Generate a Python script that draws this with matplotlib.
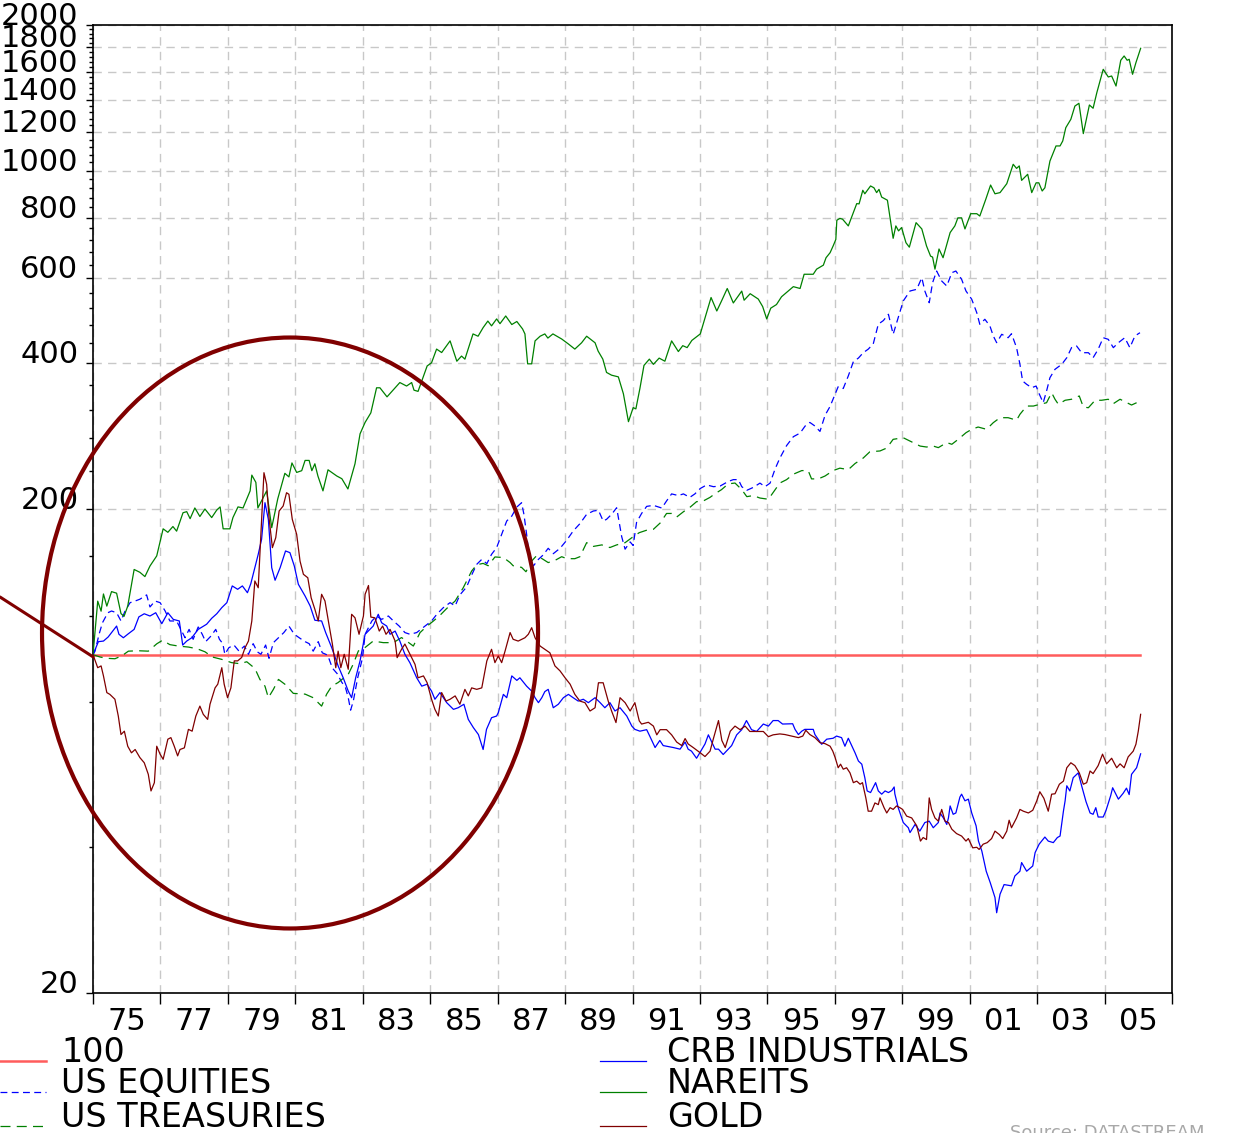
import matplotlib
matplotlib.use("Agg")
import matplotlib.pyplot as plt
from matplotlib.patches import Ellipse
from matplotlib.lines import Line2D
from matplotlib.ticker import FixedLocator, NullFormatter

# ---- data (1975 = 100) ----
base_years = [1975.0, 2006.05]
base_vals = [100, 100]

equity_years = [1975.0, 1975.06, 1975.18, 1975.28, 1975.44, 1975.55, 1975.70, 1975.83, 1975.95, 1976.10,
                1976.25, 1976.39, 1976.59, 1976.69, 1976.84, 1976.99, 1977.14, 1977.28, 1977.48, 1977.63,
                1977.73, 1977.85, 1977.97, 1978.12, 1978.24, 1978.34, 1978.50, 1978.64, 1978.75, 1978.85,
                1978.91, 1979.03, 1979.18, 1979.33, 1979.49, 1979.61, 1979.75, 1979.87, 1979.98, 1980.12,
                1980.22, 1980.35, 1980.50, 1980.66, 1980.81, 1980.97, 1981.14, 1981.29, 1981.41, 1981.53,
                1981.68, 1981.80, 1981.96, 1982.10, 1982.24, 1982.37, 1982.49, 1982.57, 1982.64, 1982.72,
                1982.85, 1982.99, 1983.07, 1983.27, 1983.41, 1983.56, 1983.76, 1983.91, 1984.08, 1984.25,
                1984.40, 1984.60, 1984.85, 1985.04, 1985.21, 1985.39, 1985.59, 1985.74, 1985.88, 1986.08,
                1986.23, 1986.38, 1986.53, 1986.68, 1986.82, 1986.97, 1987.12, 1987.27, 1987.42, 1987.57,
                1987.71, 1987.78, 1987.86, 1987.94, 1988.06, 1988.21, 1988.35, 1988.50, 1988.65, 1988.85,
                1989.05, 1989.24, 1989.44, 1989.64, 1989.84, 1989.99, 1990.13, 1990.23, 1990.38, 1990.53,
                1990.68, 1990.78, 1990.93, 1991.02, 1991.12, 1991.27, 1991.42, 1991.62, 1991.87, 1992.01,
                1992.16, 1992.36, 1992.51, 1992.70, 1992.85, 1993.01, 1993.20, 1993.40, 1993.60, 1993.84,
                1993.99, 1994.14, 1994.24, 1994.39, 1994.58, 1994.78, 1994.93, 1995.08, 1995.23, 1995.37,
                1995.57, 1995.77, 1995.97, 1996.12, 1996.26, 1996.41, 1996.56, 1996.71, 1996.86, 1997.01,
                1997.10, 1997.25, 1997.40, 1997.55, 1997.70, 1997.84, 1997.99, 1998.14, 1998.29, 1998.44,
                1998.59, 1998.73, 1998.88, 1999.03, 1999.23, 1999.43, 1999.58, 1999.67, 1999.80, 1999.90,
                2000.02, 2000.17, 2000.32, 2000.47, 2000.59, 2000.76, 2000.89, 2001.06, 2001.21, 2001.30,
                2001.45, 2001.60, 2001.70, 2001.80, 2001.95, 2002.14, 2002.24, 2002.39, 2002.49, 2002.57,
                2002.69, 2002.84, 2002.97, 2003.06, 2003.18, 2003.28, 2003.38, 2003.53, 2003.73, 2003.88,
                2004.02, 2004.17, 2004.32, 2004.52, 2004.66, 2004.81, 2004.96, 2005.11, 2005.26, 2005.41,
                2005.60, 2005.75, 2005.90, 2006.05]
equity_vals = [100, 101.7, 110.2, 116.4, 122.1, 123.1, 122.1, 117.4, 123.1, 128.1,
               129.1, 130.2, 132.9, 125.5, 129.1, 128.1, 123.1, 117.4, 117.4, 111.9,
               108.4, 112.8, 107.6, 114.1, 110.2, 106.4, 109.3, 112.8, 107.6, 105.4,
               100.2, 103.4, 104.7, 101.7, 104.2, 100.2, 105.4, 101.4, 100.2, 104.7,
               98.3, 105.9, 108.4, 111.1, 114.6, 110.2, 108.1, 106.4, 105.4, 101.7,
               106.4, 100.9, 99.8, 93.8, 91.4, 87.9, 85.4, 81.5, 76.8, 80.2,
               89.6, 98.3, 110.2, 117.4, 120.2, 118.3, 120.2, 117.4, 114.6, 111.1,
               110.2, 111.1, 114.6, 117.4, 121.5, 125.1, 128.1, 126.1, 132.9, 138.0,
               146.1, 153.7, 157.4, 154.2, 161.2, 166.4, 177.3, 188.9, 193.4, 201.9,
               206.1, 195.0, 177.3, 158.6, 152.5, 157.4, 160.7, 165.9, 161.7, 165.9,
               172.4, 180.1, 186.5, 195.0, 198.1, 198.8, 188.9, 190.4, 195.0, 201.2,
               175.3, 165.2, 171.0, 168.1, 187.6, 195.8, 202.5, 203.5, 200.9, 207.8,
               214.9, 213.2, 214.9, 211.4, 214.9, 220.5, 224.3, 222.4, 223.1, 228.0,
               230.0, 230.0, 222.4, 218.6, 221.6, 226.2, 222.4, 226.2, 242.1, 254.8,
               270.4, 282.1, 287.0, 296.8, 301.9, 296.8, 289.3, 312.3, 325.9, 345.8,
               357.9, 354.8, 376.7, 403.1, 410.1, 420.5, 427.8, 438.7, 481.8, 490.2,
               505.1, 459.2, 496.9, 538.1, 564.2, 568.8, 601.1, 564.2, 533.6, 587.0,
               620.5, 591.7, 577.7, 615.5, 620.5, 596.6, 564.2, 542.5, 508.8, 481.5,
               493.2, 477.7, 455.5, 441.2, 459.2, 451.8, 460.5, 430.9, 398.1, 367.7,
               361.9, 356.2, 359.0, 346.1, 331.6, 350.6, 373.5, 388.7, 398.1, 410.8,
               430.9, 434.3, 420.7, 420.7, 410.8, 427.6, 451.8, 448.3, 430.9, 441.2,
               451.8, 430.9, 455.5, 462.7]

treas_years = [1975.0, 1975.21, 1975.41, 1975.65, 1975.85, 1976.05, 1976.34, 1976.64, 1976.89, 1977.06,
               1977.28, 1977.53, 1977.83, 1978.08, 1978.32, 1978.54, 1978.82, 1979.11, 1979.36, 1979.56,
               1979.80, 1979.95, 1980.10, 1980.20, 1980.35, 1980.50, 1980.69, 1980.94, 1981.29, 1981.53,
               1981.78, 1981.93, 1982.08, 1982.27, 1982.57, 1982.72, 1982.87, 1983.07, 1983.31, 1983.61,
               1983.91, 1984.15, 1984.30, 1984.50, 1984.70, 1984.90, 1985.09, 1985.29, 1985.49, 1985.74,
               1985.98, 1986.23, 1986.38, 1986.57, 1986.72, 1986.92, 1987.17, 1987.37, 1987.46, 1987.71,
               1987.84, 1988.01, 1988.16, 1988.35, 1988.50, 1988.70, 1988.90, 1989.05, 1989.29, 1989.44,
               1989.64, 1989.84, 1990.09, 1990.33, 1990.53, 1990.78, 1991.02, 1991.20, 1991.47, 1991.62,
               1991.82, 1992.01, 1992.16, 1992.31, 1992.51, 1992.70, 1992.90, 1993.10, 1993.30, 1993.44,
               1993.64, 1993.84, 1994.04, 1994.24, 1994.39, 1994.58, 1994.78, 1995.03, 1995.18, 1995.37,
               1995.57, 1995.77, 1996.02, 1996.21, 1996.31, 1996.51, 1996.71, 1996.95, 1997.15, 1997.40,
               1997.60, 1997.84, 1998.04, 1998.34, 1998.54, 1998.73, 1999.03, 1999.33, 1999.53, 1999.72,
               1999.92, 2000.07, 2000.32, 2000.47, 2000.66, 2000.89, 2001.06, 2001.25, 2001.50, 2001.70,
               2001.90, 2002.14, 2002.39, 2002.49, 2002.69, 2002.89, 2003.08, 2003.28, 2003.43, 2003.53,
               2003.63, 2003.83, 2004.02, 2004.25, 2004.37, 2004.52, 2004.72, 2004.91, 2005.11, 2005.26,
               2005.46, 2005.60, 2005.80, 2005.95]
treas_vals = [100, 98.9, 98.3, 98.1, 99.4, 101.7, 101.9, 101.7, 105.3, 107.1,
              104.9, 104.2, 103.7, 102.9, 101.4, 98.9, 97.8, 96.3, 95.8, 96.7,
              93.7, 88.9, 86.1, 81.5, 84.8, 88.9, 86.9, 83.2, 82.9, 81.5,
              78.3, 82.9, 86.1, 87.6, 91.1, 95.7, 101.8, 103.5, 106.7, 105.9,
              105.9, 108.5, 106.7, 104.2, 111.1, 114.5, 117.3, 120.6, 124.6, 129.1,
              137.5, 148.9, 153.4, 154.4, 152.7, 159.2, 158.8, 155.0, 152.7, 151.5,
              148.4, 156.1, 160.3, 157.4, 155.0, 156.6, 159.4, 157.9, 157.9, 159.4,
              170.4, 167.4, 168.6, 166.5, 168.6, 170.4, 175.3, 178.7, 181.3, 181.6,
              187.1, 195.8, 195.8, 192.5, 197.4, 201.5, 207.1, 207.8, 211.4, 214.9,
              219.3, 225.4, 226.3, 219.3, 212.1, 213.2, 210.7, 209.5, 216.8, 226.3,
              230.0, 236.0, 240.1, 240.1, 230.8, 230.8, 234.0, 240.1, 242.9, 241.2,
              248.3, 254.8, 262.6, 263.6, 267.3, 278.6, 280.7, 274.2, 269.8, 268.6,
              269.8, 267.8, 274.3, 272.1, 278.6, 287.5, 292.2, 295.4, 292.2, 301.6,
              308.8, 308.8, 305.1, 313.8, 326.4, 326.4, 329.1, 331.6, 347.8, 337.1,
              329.1, 335.5, 337.1, 342.4, 324.9, 323.8, 335.5, 335.5, 337.1, 330.1,
              337.1, 333.3, 328.0, 331.6]

crb_years = [1975.0, 1975.16, 1975.31, 1975.45, 1975.60, 1975.70, 1975.77, 1975.90, 1976.05, 1976.22,
             1976.36, 1976.52, 1976.69, 1976.86, 1977.04, 1977.22, 1977.38, 1977.56, 1977.66, 1977.78,
             1977.93, 1978.12, 1978.37, 1978.52, 1978.67, 1978.82, 1978.97, 1979.13, 1979.29, 1979.43,
             1979.58, 1979.68, 1979.80, 1979.90, 1980.00, 1980.10, 1980.20, 1980.30, 1980.40, 1980.55,
             1980.71, 1980.84, 1980.97, 1981.09, 1981.29, 1981.44, 1981.58, 1981.78, 1981.90, 1982.08,
             1982.27, 1982.42, 1982.57, 1982.67, 1982.79, 1982.92, 1983.07, 1983.31, 1983.46, 1983.56,
             1983.71, 1983.81, 1983.96, 1984.10, 1984.25, 1984.40, 1984.60, 1984.75, 1984.91, 1985.04,
             1985.14, 1985.29, 1985.49, 1985.69, 1985.83, 1986.00, 1986.13, 1986.28, 1986.43, 1986.57,
             1986.67, 1986.82, 1986.97, 1987.02, 1987.17, 1987.27, 1987.42, 1987.57, 1987.66, 1987.86,
             1988.01, 1988.11, 1988.21, 1988.31, 1988.40, 1988.50, 1988.65, 1988.80, 1988.95, 1989.10,
             1989.24, 1989.39, 1989.54, 1989.69, 1989.89, 1990.04, 1990.18, 1990.33, 1990.48, 1990.63,
             1990.83, 1990.98, 1991.07, 1991.22, 1991.42, 1991.52, 1991.67, 1991.81, 1991.91, 1992.21,
             1992.41, 1992.56, 1992.65, 1992.75, 1992.90, 1993.15, 1993.25, 1993.35, 1993.45, 1993.55,
             1993.69, 1993.94, 1994.09, 1994.24, 1994.38, 1994.53, 1994.68, 1994.88, 1995.03, 1995.17,
             1995.32, 1995.45, 1995.75, 1995.82, 1995.92, 1996.02, 1996.11, 1996.36, 1996.41, 1996.61,
             1996.76, 1996.95, 1997.05, 1997.20, 1997.30, 1997.40, 1997.60, 1997.70, 1997.80, 1997.89,
             1997.96, 1998.06, 1998.21, 1998.29, 1998.39, 1998.49, 1998.59, 1998.69, 1998.76, 1998.78,
             1998.88, 1999.03, 1999.18, 1999.23, 1999.38, 1999.52, 1999.67, 1999.80, 1999.92, 2000.07,
             2000.12, 2000.22, 2000.32, 2000.37, 2000.42, 2000.51, 2000.59, 2000.71, 2000.76, 2000.86,
             2000.96, 2001.06, 2001.19, 2001.26, 2001.36, 2001.49, 2001.61, 2001.75, 2001.80, 2001.90,
             2002.02, 2002.24, 2002.34, 2002.49, 2002.54, 2002.69, 2002.87, 2002.94, 2003.06, 2003.23,
             2003.33, 2003.48, 2003.60, 2003.68, 2003.78, 2003.83, 2003.88, 2003.97, 2004.07, 2004.22,
             2004.32, 2004.45, 2004.57, 2004.66, 2004.74, 2004.81, 2004.96, 2005.04, 2005.18, 2005.24,
             2005.41, 2005.55, 2005.65, 2005.73, 2005.80, 2005.95, 2006.07]
crb_vals = [100, 106.4, 106.7, 108.8, 112.3, 114.6, 110.2, 108.4, 110.5, 112.8,
            119.7, 121.5, 120.2, 122.1, 115.9, 122.1, 118.3, 117.4, 104.7, 106.7,
            108.4, 112.8, 115.6, 118.9, 121.5, 125.1, 128.1, 138.7, 136.5, 138.7,
            134.3, 140.2, 151.3, 161.2, 173.2, 206.1, 190.4, 151.3, 142.5, 151.3,
            163.8, 162.5, 152.5, 139.8, 132.2, 126.1, 117.8, 117.4, 111.1, 103.4,
            94.8, 89.6, 84.1, 81.5, 89.6, 97.1, 110.2, 114.6, 121.2, 116.4,
            114.6, 110.2, 111.9, 106.7, 100.2, 96.2, 89.6, 86.1, 86.9, 84.1,
            80.9, 83.5, 79.6, 77.1, 77.7, 79.0, 73.5, 70.7, 68.4, 63.7,
            70.1, 74.1, 74.7, 75.9, 82.8, 81.5, 90.4, 88.5, 89.6, 86.1,
            84.1, 81.5, 79.6, 81.5, 83.9, 84.8, 77.7, 79.0, 81.5, 82.8,
            81.5, 80.2, 80.9, 79.6, 81.5, 79.6, 77.7, 79.6, 76.5, 77.7,
            74.7, 71.2, 70.1, 69.5, 70.0, 67.7, 64.3, 66.5, 64.9, 64.3,
            63.8, 66.0, 63.8, 63.2, 61.1, 65.4, 68.3, 66.0, 63.8, 63.8,
            62.2, 64.9, 68.3, 70.0, 73.1, 70.0, 69.4, 71.9, 71.2, 73.1,
            73.1, 71.9, 72.0, 70.1, 68.4, 69.5, 70.1, 70.1, 68.4, 65.3,
            66.9, 67.2, 67.9, 67.4, 64.7, 67.2, 62.7, 60.3, 59.4, 55.7,
            52.3, 51.9, 54.4, 52.3, 51.5, 52.3, 51.9, 52.4, 53.3, 51.6,
            48.3, 45.0, 43.9, 42.9, 44.6, 43.2, 45.0, 45.3, 43.9, 45.0,
            47.1, 46.0, 44.6, 46.0, 48.7, 46.8, 47.1, 50.8, 51.5, 49.9,
            50.3, 47.1, 44.3, 41.2, 39.3, 35.7, 33.8, 31.5, 29.3, 32.0,
            33.5, 33.3, 34.9, 35.7, 37.2, 35.7, 36.6, 39.0, 40.6, 42.0,
            41.2, 40.9, 41.9, 42.2, 47.5, 49.9, 53.6, 52.3, 55.7, 57.0,
            53.6, 49.7, 47.1, 46.8, 48.3, 46.2, 46.2, 47.6, 51.1, 53.1,
            50.3, 51.7, 53.0, 51.4, 56.6, 58.4, 62.4]

nareit_years = [1975.00, 1975.14, 1975.24, 1975.31, 1975.41, 1975.55, 1975.70, 1975.83, 1975.92, 1976.03,
                1976.22, 1976.39, 1976.54, 1976.69, 1976.89, 1977.08, 1977.22, 1977.37, 1977.48, 1977.67,
                1977.78, 1977.88, 1978.02, 1978.17, 1978.32, 1978.52, 1978.67, 1978.77, 1978.86, 1979.06,
                1979.15, 1979.30, 1979.45, 1979.66, 1979.71, 1979.83, 1979.89, 1980.00, 1980.15, 1980.30,
                1980.48, 1980.69, 1980.81, 1980.90, 1981.04, 1981.19, 1981.29, 1981.41, 1981.49, 1981.58,
                1981.67, 1981.82, 1981.97, 1982.23, 1982.38, 1982.56, 1982.77, 1982.92, 1983.07, 1983.24,
                1983.41, 1983.51, 1983.72, 1984.10, 1984.30, 1984.45, 1984.52, 1984.64, 1984.91, 1985.04,
                1985.19, 1985.34, 1985.59, 1985.79, 1985.93, 1986.03, 1986.27, 1986.42, 1986.57, 1986.71,
                1986.82, 1986.97, 1987.07, 1987.24, 1987.42, 1987.57, 1987.74, 1987.81, 1987.89, 1988.01,
                1988.11, 1988.26, 1988.40, 1988.49, 1988.64, 1988.90, 1989.09, 1989.29, 1989.49, 1989.64,
                1989.89, 1989.98, 1990.12, 1990.23, 1990.38, 1990.58, 1990.73, 1990.88, 1991.02, 1991.10,
                1991.22, 1991.34, 1991.50, 1991.62, 1991.79, 1991.96, 1992.16, 1992.36, 1992.49, 1992.62,
                1992.76, 1993.01, 1993.33, 1993.50, 1993.64, 1993.81, 1993.99, 1994.24, 1994.31, 1994.49,
                1994.73, 1994.86, 1994.98, 1995.10, 1995.27, 1995.42, 1995.77, 1995.97, 1996.09, 1996.36,
                1996.46, 1996.66, 1996.74, 1996.86, 1996.95, 1997.03, 1997.06, 1997.15, 1997.23, 1997.40,
                1997.53, 1997.65, 1997.72, 1997.83, 1997.89, 1998.06, 1998.16, 1998.24, 1998.31, 1998.39,
                1998.56, 1998.73, 1998.81, 1998.89, 1998.98, 1999.11, 1999.21, 1999.41, 1999.58, 1999.72,
                1999.84, 1999.90, 1999.97, 2000.09, 2000.21, 2000.42, 2000.56, 2000.65, 2000.76, 2000.86,
                2001.03, 2001.21, 2001.30, 2001.48, 2001.62, 2001.75, 2001.90, 2002.10, 2002.29, 2002.39,
                2002.47, 2002.54, 2002.72, 2002.84, 2002.97, 2003.05, 2003.15, 2003.23, 2003.38, 2003.56,
                2003.68, 2003.76, 2003.85, 2004.00, 2004.12, 2004.24, 2004.37, 2004.55, 2004.66, 2004.77,
                2004.96, 2005.11, 2005.21, 2005.34, 2005.48, 2005.58, 2005.67, 2005.73, 2005.83, 2005.93,
                2006.07]
nareit_vals = [100, 129, 123, 133.5, 126, 135, 134, 121.6, 120, 126,
               150, 148, 145, 152.5, 160, 182, 179, 184, 180, 196.5,
               197.5, 191, 201, 193, 200, 192, 199, 202, 182, 182,
               192, 202, 201, 218, 235, 227, 201, 208, 218, 183,
               210, 237, 233, 249, 238, 240, 252, 252, 240, 248,
               234, 218, 241, 234, 231, 220, 248, 286, 302, 316,
               356, 356, 341, 365, 359, 365, 352, 350, 395, 401,
               428, 421, 445, 404, 414, 408, 460, 455, 474, 489,
               478, 494, 483, 501, 481, 488, 471, 460, 399, 399,
               445, 455, 460, 451, 460, 449, 439, 428, 441, 455,
               441, 424, 408, 383, 378, 375, 346, 303, 324, 322,
               355, 396, 408, 398, 410, 404, 445, 423, 435, 431,
               446, 460, 547, 513, 538, 571, 533, 564, 540, 557,
               543, 524, 494, 520, 529, 549, 576, 571, 611, 611,
               626, 638, 661, 677, 699, 721, 790, 797, 794, 769,
               813, 855, 854, 911, 896, 930, 922, 901, 915, 882,
               869, 725, 769, 751, 763, 710, 695, 781, 758, 699,
               666, 663, 626, 689, 661, 745, 769, 799, 799, 758,
               815, 815, 806, 874, 934, 896, 901, 940, 1031, 1011,
               1023, 955, 983, 901, 944, 944, 908, 922, 1047, 1125,
               1125, 1152, 1227, 1277, 1360, 1378, 1193, 1367, 1346, 1449,
               1620, 1562, 1569, 1496, 1691, 1726, 1691, 1699, 1582, 1672,
               1790]

gold_years = [1975.0, 1975.14, 1975.24, 1975.31, 1975.41, 1975.50, 1975.65, 1975.75, 1975.83, 1975.93,
              1976.03, 1976.14, 1976.25, 1976.39, 1976.52, 1976.64, 1976.72, 1976.82, 1976.89, 1976.99,
              1977.08, 1977.22, 1977.31, 1977.41, 1977.51, 1977.58, 1977.71, 1977.83, 1977.94, 1978.05,
              1978.17, 1978.27, 1978.40, 1978.47, 1978.62, 1978.70, 1978.82, 1978.89, 1978.99, 1979.09,
              1979.19, 1979.29, 1979.41, 1979.51, 1979.61, 1979.71, 1979.80, 1979.90, 1980.00, 1980.07,
              1980.15, 1980.22, 1980.32, 1980.42, 1980.52, 1980.64, 1980.74, 1980.81, 1980.91, 1981.04,
              1981.14, 1981.24, 1981.37, 1981.47, 1981.58, 1981.68, 1981.78, 1981.88, 1981.98, 1982.10,
              1982.20, 1982.27, 1982.35, 1982.45, 1982.57, 1982.67, 1982.77, 1982.89, 1983.02, 1983.07,
              1983.17, 1983.24, 1983.36, 1983.49, 1983.59, 1983.69, 1983.81, 1983.96, 1984.02, 1984.15,
              1984.25, 1984.40, 1984.55, 1984.64, 1984.80, 1984.91, 1985.04, 1985.14, 1985.24, 1985.34,
              1985.47, 1985.59, 1985.74, 1985.88, 1986.03, 1986.13, 1986.23, 1986.38, 1986.53, 1986.68,
              1986.82, 1986.92, 1987.02, 1987.12, 1987.22, 1987.37, 1987.46, 1987.61, 1987.81, 1987.91,
              1988.01, 1988.11, 1988.26, 1988.40, 1988.55, 1988.70, 1988.85, 1989.00, 1989.15, 1989.29,
              1989.44, 1989.59, 1989.74, 1989.89, 1989.99, 1990.13, 1990.28, 1990.38, 1990.51, 1990.63,
              1990.78, 1990.93, 1991.07, 1991.20, 1991.27, 1991.47, 1991.62, 1991.72, 1991.82, 1992.01,
              1992.16, 1992.31, 1992.46, 1992.56, 1992.65, 1992.80, 1993.01, 1993.15, 1993.30, 1993.40,
              1993.55, 1993.65, 1993.75, 1993.90, 1994.04, 1994.19, 1994.34, 1994.48, 1994.68, 1994.88,
              1995.03, 1995.17, 1995.37, 1995.52, 1995.72, 1995.92, 1996.05, 1996.14, 1996.26, 1996.41,
              1996.56, 1996.71, 1996.86, 1996.94, 1997.01, 1997.10, 1997.17, 1997.25, 1997.35, 1997.45,
              1997.55, 1997.65, 1997.75, 1997.82, 1997.92, 1997.99, 1998.09, 1998.19, 1998.29, 1998.34,
              1998.46, 1998.54, 1998.64, 1998.73, 1998.83, 1998.93, 1999.01, 1999.13, 1999.28, 1999.43,
              1999.54, 1999.62, 1999.72, 1999.80, 1999.87, 1999.97, 2000.07, 2000.17, 2000.27, 2000.37,
              2000.47, 2000.61, 2000.76, 2000.89, 2000.96, 2001.09, 2001.21, 2001.28, 2001.40, 2001.52,
              2001.65, 2001.75, 2001.88, 2001.98, 2002.10, 2002.17, 2002.24, 2002.39, 2002.49, 2002.59,
              2002.74, 2002.87, 2002.99, 2003.08, 2003.20, 2003.33, 2003.43, 2003.53, 2003.66, 2003.78,
              2003.88, 2004.00, 2004.12, 2004.25, 2004.37, 2004.47, 2004.57, 2004.66, 2004.81, 2004.94,
              2005.06, 2005.21, 2005.36, 2005.46, 2005.58, 2005.70, 2005.85, 2005.93, 2006.00, 2006.07]
gold_vals = [100, 94.0, 94.8, 90.4, 83.5, 82.8, 80.9, 74.7, 68.4, 69.5,
             64.7, 62.7, 63.7, 61.3, 59.8, 56.6, 52.3, 54.4, 64.7, 62.3,
             60.8, 66.9, 67.4, 64.7, 61.8, 63.7, 64.2, 70.1, 69.5, 74.7,
             78.3, 75.3, 73.5, 79.0, 85.4, 86.9, 94.0, 86.9, 81.5, 85.4,
             97.1, 97.1, 98.7, 103.4, 106.7, 117.4, 142.0, 137.5, 188.9, 237.7,
             224.9, 191.9, 166.4, 174.5, 198.1, 202.9, 216.1, 214.5, 190.4, 177.3,
             156.1, 146.6, 144.2, 131.1, 124.1, 117.4, 133.3, 129.1, 117.4, 105.1,
             94.0, 101.7, 94.0, 100.2, 93.3, 121.2, 119.2, 110.2, 120.2, 133.3,
             139.0, 119.6, 119.2, 111.9, 114.6, 110.2, 112.8, 106.7, 98.6, 102.6,
             105.2, 100.2, 95.5, 89.6, 90.4, 87.5, 80.9, 77.1, 74.7, 83.5,
             80.2, 80.9, 82.2, 79.0, 84.8, 82.2, 85.4, 84.8, 85.4, 97.1,
             102.6, 96.3, 99.4, 96.3, 101.7, 111.1, 107.6, 106.7, 108.4, 110.2,
             113.7, 108.4, 104.2, 102.6, 100.9, 94.8, 92.6, 89.6, 86.9, 82.8,
             80.2, 79.6, 76.5, 77.7, 87.5, 87.5, 80.2, 76.5, 72.4, 81.5,
             79.6, 76.5, 79.6, 73.0, 71.9, 72.5, 71.2, 68.3, 70.0, 70.0,
             68.3, 66.0, 64.9, 67.1, 65.4, 64.3, 62.7, 61.6, 63.2, 67.1,
             73.1, 66.5, 64.3, 69.5, 71.2, 70.0, 71.2, 69.4, 69.4, 69.4,
             67.7, 68.3, 68.6, 68.4, 67.9, 67.4, 67.9, 69.8, 68.4, 67.4,
             65.8, 65.5, 64.7, 63.2, 61.3, 58.4, 59.4, 58.0, 58.4, 57.0,
             54.4, 54.8, 54.0, 54.4, 50.6, 47.5, 47.5, 49.4, 49.0, 50.6,
             48.3, 47.1, 48.3, 47.9, 48.7, 48.3, 47.9, 46.4, 46.0, 44.3,
             41.2, 41.9, 41.5, 50.6, 47.9, 46.0, 45.3, 47.9, 45.3, 45.0,
             43.6, 42.7, 42.2, 41.2, 41.7, 39.9, 40.0, 39.6, 40.6, 40.9,
             41.7, 43.2, 42.5, 41.7, 43.2, 45.5, 43.9, 46.0, 47.9, 47.5,
             47.1, 47.7, 49.9, 52.1, 50.5, 47.5, 51.5, 51.6, 54.0, 54.8,
             58.4, 59.8, 59.0, 57.0, 54.0, 54.4, 57.5, 56.8, 59.0, 62.3,
             59.5, 61.1, 58.4, 59.5, 58.4, 61.5, 63.2, 65.3, 69.5, 75.3]

y_major = [20, 200, 400, 600, 800, 1000, 1200, 1400, 1600, 1800, 2000]
y_minor = [v for v in range(40, 2000, 40) if v % 200 != 0]
x_ticks = list(range(1975, 2008, 2))
x_label_pos = [y + 1 for y in range(1975, 2006, 2)]
x_labels = ['75', '77', '79', '81', '83', '85', '87', '89', '91', '93', '95', '97', '99', '01', '03', '05']

W, H = 1235, 1133
RED = '#ff5c5c'
BLUE = '#0000ff'
GREEN = '#008000'
GOLD = '#800000'

fig = plt.figure(figsize=(W / 100, H / 100), dpi=100)
ax = fig.add_axes([93 / W, 140 / H, 1079 / W, 968 / H])

ax.plot(base_years, base_vals, color=RED, lw=1.8, zorder=2)
ax.plot(equity_years, equity_vals, color=BLUE, lw=0.9, dashes=(5.5, 3.5), zorder=3)
ax.plot(treas_years, treas_vals, color=GREEN, lw=0.9, dashes=(8, 5), zorder=3)
ax.plot(crb_years, crb_vals, color=BLUE, lw=0.9, zorder=3)
ax.plot(nareit_years, nareit_vals, color=GREEN, lw=0.9, zorder=3)
ax.plot(gold_years, gold_vals, color=GOLD, lw=0.9, zorder=3)

ax.set_yscale('log')
ax.set_ylim(20, 2000)
ax.set_xlim(1975, 2007)

ax.set_yticks(y_major, labels=[str(v) for v in y_major], va='baseline')
ax.yaxis.set_minor_locator(FixedLocator(y_minor))
ax.yaxis.set_minor_formatter(NullFormatter())
ax.tick_params(axis='y', which='major', direction='out', length=5, width=1, pad=5.5, labelsize=22)
ax.tick_params(axis='y', which='minor', direction='out', length=3, width=1)

ax.set_xticks(x_ticks, labels=[''] * len(x_ticks))
ax.set_xticks(x_label_pos, labels=x_labels, minor=True)
ax.tick_params(axis='x', which='major', direction='out', length=8, width=1)
ax.tick_params(axis='x', which='minor', length=0, pad=10, labelsize=22)

ax.grid(True, which='major', color='#c8c8c8', linestyle=(0, (6, 4.5)), linewidth=1.0, zorder=0)
ax.set_axisbelow(True)
for sp in ax.spines.values():
    sp.set_linewidth(1.2)

# annotation: circle round the 1975-87 period and pointer to the start
ax.add_patch(Ellipse((0.1826, 0.3719), 0.4597, 0.6105, transform=ax.transAxes, fill=False,
                     ec=GOLD, lw=3, clip_on=False, zorder=6))
ax.annotate('', xy=(1975, 99), xycoords='data', xytext=(-93 / 1079, (993 - 597) / 968),
            textcoords='axes fraction', annotation_clip=False,
            arrowprops=dict(arrowstyle='-', color=GOLD, lw=2.2, shrinkA=0, shrinkB=0))

# legend drawn by hand in two columns
legend_rows = [
    ('100', RED, None, 1.8, 0, 1061),
    ('US EQUITIES', BLUE, (5.5, 3.5), 0.9, 0, 1092),
    ('US TREASURIES', GREEN, (8, 5), 0.9, 0, 1126),
    ('CRB INDUSTRIALS', BLUE, None, 0.9, 600, 1061),
    ('NAREITS', GREEN, None, 0.9, 600, 1092),
    ('GOLD', GOLD, None, 0.9, 600, 1126),
]
for label, col, dash, lw, x0, yb in legend_rows:
    ln = Line2D([x0 / W, (x0 + 46) / W], [1 - yb / H, 1 - yb / H], color=col, lw=lw,
                transform=fig.transFigure)
    if dash:
        ln.set_dashes(dash)
    fig.add_artist(ln)
    fig.text((x0 + 61 + (6 if x0 else 0)) / W, 1 - (yb + 1) / H, label, fontsize=24,
             va='baseline', ha='left')

fig.text(1010 / W, 1 - 1124 / H, 'Source: DATASTREAM', fontsize=13, color='#a8a8a8',
         va='top', ha='left')

fig.savefig('out.png', dpi=100)
